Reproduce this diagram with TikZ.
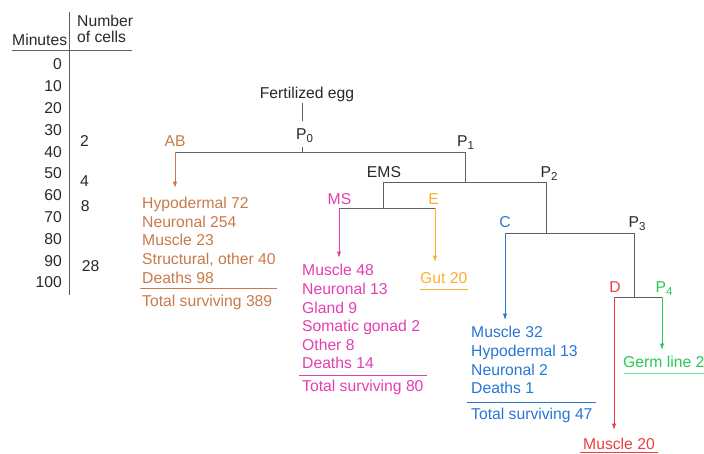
\documentclass[tikz,border=0pt]{standalone}
\usepackage{fontspec}
\setmainfont{Liberation Sans}
\usepackage{tikz}
\usetikzlibrary{arrows.meta}

\definecolor{linegray}{RGB}{95,95,95}
\definecolor{txtgray}{RGB}{40,40,40}
\definecolor{abcol}{RGB}{200,122,74}
\definecolor{mscol}{RGB}{228,62,178}
\definecolor{ecol}{RGB}{250,175,45}
\definecolor{ccol}{RGB}{38,118,214}
\definecolor{dcol}{RGB}{240,62,62}
\definecolor{pcol}{RGB}{40,200,84}
\definecolor{germrule}{RGB}{110,222,150}

\newcommand{\cellsub}[1]{\raisebox{-0.4ex}{\fontsize{11.5}{12}\selectfont #1}}

\begin{document}
\begin{tikzpicture}[
    x=1pt, y=-1pt,
    >={Latex[length=6.5pt, width=4.4pt]},
    font=\fontsize{15.7}{18.6}\selectfont,
    lbl/.style={anchor=base, inner sep=0pt, text=txtgray},
    fates/.style={anchor=north west, inner sep=0pt, align=left},
    total/.style={anchor=base west, inner sep=0pt},
    branch/.style={draw=linegray, line width=0.9pt, line cap=rect},
    lineage/.style={->, line width=0.9pt},
    rulebar/.style={line width=0.9pt},
    tablerule/.style={draw=linegray, line width=0.8pt}
]
\useasboundingbox (0,0) rectangle (704,453);

% --------------------------------------------------------------------------
% Time table
% --------------------------------------------------------------------------
\node[total, text=txtgray] (minhead) at (12,45.5) {Minutes};
\node[fates, text=txtgray, font=\fontsize{15.7}{15.2}\selectfont] (cellshead) at (77,15.3) {Number\\of cells};
\node[anchor=north east, inner sep=0pt, align=right, text=txtgray, font=\fontsize{15.7}{21.8}\selectfont] (minutes) at (62,58.8)
    {0\\10\\20\\30\\40\\50\\60\\70\\80\\90\\100};

\node[total, text=txtgray] (n2) at (80,146.7) {2};
\node[total, text=txtgray] (n4) at (80,186.7) {4};
\node[total, text=txtgray] (n8) at (80.7,211.7) {8};
\node[total, text=txtgray] (n28) at (81.7,271.7) {28};

\coordinate (tabtop) at (69,12);
\coordinate (tabbot) at (69,295);
\coordinate (headl) at (12,50);
\coordinate (headr) at (132,50);
\draw[tablerule] (tabtop) -- (tabbot);
\draw[tablerule] (headl) -- (headr);

% --------------------------------------------------------------------------
% Lineage tree
% --------------------------------------------------------------------------
\node[lbl] (egg) at (307,98) {Fertilized egg};
\node[lbl] (p0lbl) at (304.5,139) {P\cellsub{0}};
\node[lbl, text=abcol] (ablbl) at (175,146) {AB};
\node[lbl] (p1lbl) at (465.5,146) {P\cellsub{1}};
\node[lbl] (emslbl) at (384,177) {EMS};
\node[lbl] (p2lbl) at (549,177) {P\cellsub{2}};
\node[lbl, text=mscol] (mslbl) at (339.5,204) {MS};
\node[lbl, text=ecol] (elbl) at (433.5,204) {E};
\node[lbl, text=ccol] (clbl) at (505,227) {C};
\node[lbl] (p3lbl) at (637,227) {P\cellsub{3}};
\node[lbl, text=dcol] (dlbl) at (615,292) {D};
\node[lbl, text=pcol] (p4lbl) at (664,292) {P\cellsub{4}};

\coordinate (eggtop) at (302,103);
\coordinate (eggbot) at (302,121);
\coordinate (p0tick) at (302,147);
\coordinate (p0) at (302,152);
\coordinate (ab) at (175,152);
\coordinate (abend) at (175,188);
\coordinate (p1) at (465,152);
\coordinate (p1b) at (465,182);
\coordinate (ems) at (383,182);
\coordinate (emsb) at (383,208);
\coordinate (p2) at (546,182);
\coordinate (ms) at (339,208);
\coordinate (msend) at (339,258);
\coordinate (e) at (435,208);
\coordinate (eend) at (435,262);
\coordinate (p2b) at (546,233);
\coordinate (c) at (505,233);
\coordinate (cend) at (505,320);
\coordinate (p3) at (634,233);
\coordinate (p3b) at (634,297);
\coordinate (d) at (614,297);
\coordinate (dend) at (614,430);
\coordinate (p4) at (662,297);
\coordinate (p4end) at (662,350);

\draw[branch] (eggtop) -- (eggbot);
\draw[branch] (p0tick) -- (p0);
\draw[branch] (ab) -- (p1);
\draw[branch] (p1) -- (p1b);
\draw[branch] (ems) -- (p2);
\draw[branch] (ems) -- (emsb);
\draw[branch] (ms) -- (e);
\draw[branch] (p2) -- (p2b);
\draw[branch] (c) -- (p3);
\draw[branch] (p3) -- (p3b);
\draw[branch] (d) -- (p4);

\draw[lineage, abcol] (ab) -- (abend);
\draw[lineage, mscol] (ms) -- (msend);
\draw[lineage, ecol] (e) -- (eend);
\draw[lineage, ccol] (c) -- (cend);
\draw[lineage, dcol] (d) -- (dend);
\draw[lineage, pcol] (p4) -- (p4end);

% --------------------------------------------------------------------------
% Cell fates
% --------------------------------------------------------------------------
\node[fates, text=abcol] (abfates) at (142,197.2) {Hypodermal 72\\Neuronal 254\\Muscle 23\\Structural, other 40\\Deaths 98};
\node[total, text=abcol] (abtotal) at (142,306) {Total surviving 389};
\coordinate (abrulel) at (140,288);
\coordinate (abruler) at (277,288);
\draw[rulebar, abcol] (abrulel) -- (abruler);

\node[fates, text=mscol] (msfates) at (302,264.3) {Muscle 48\\Neuronal 13\\Gland 9\\Somatic gonad 2\\Other 8\\Deaths 14};
\node[total, text=mscol] (mstotal) at (302,391.5) {Total surviving 80};
\coordinate (msrulel) at (299,375);
\coordinate (msruler) at (427,375);
\draw[rulebar, mscol] (msrulel) -- (msruler);

\node[total, text=ecol] (gut) at (420,283.5) {Gut 20};
\coordinate (gutl) at (420,289.5);
\coordinate (gutr) at (468,289.5);
\draw[rulebar, ecol] (gutl) -- (gutr);

\node[fates, text=ccol] (cfates) at (471,326.3) {Muscle 32\\Hypodermal 13\\Neuronal 2\\Deaths 1};
\node[total, text=ccol] (ctotal) at (471,419.5) {Total surviving 47};
\coordinate (crulel) at (467,402);
\coordinate (cruler) at (596,402);
\draw[rulebar, ccol] (crulel) -- (cruler);

\node[total, text=pcol] (germ) at (623,367) {Germ line 2};
\coordinate (germl) at (624,373);
\coordinate (germr) at (704,373);
\draw[rulebar, germrule] (germl) -- (germr);

\node[total, text=dcol] (dmuscle) at (583,449) {Muscle 20};
\coordinate (dmusl) at (580,452);
\coordinate (dmusr) at (658,452);
\draw[rulebar, dcol] (dmusl) -- (dmusr);

\end{tikzpicture}
\end{document}
